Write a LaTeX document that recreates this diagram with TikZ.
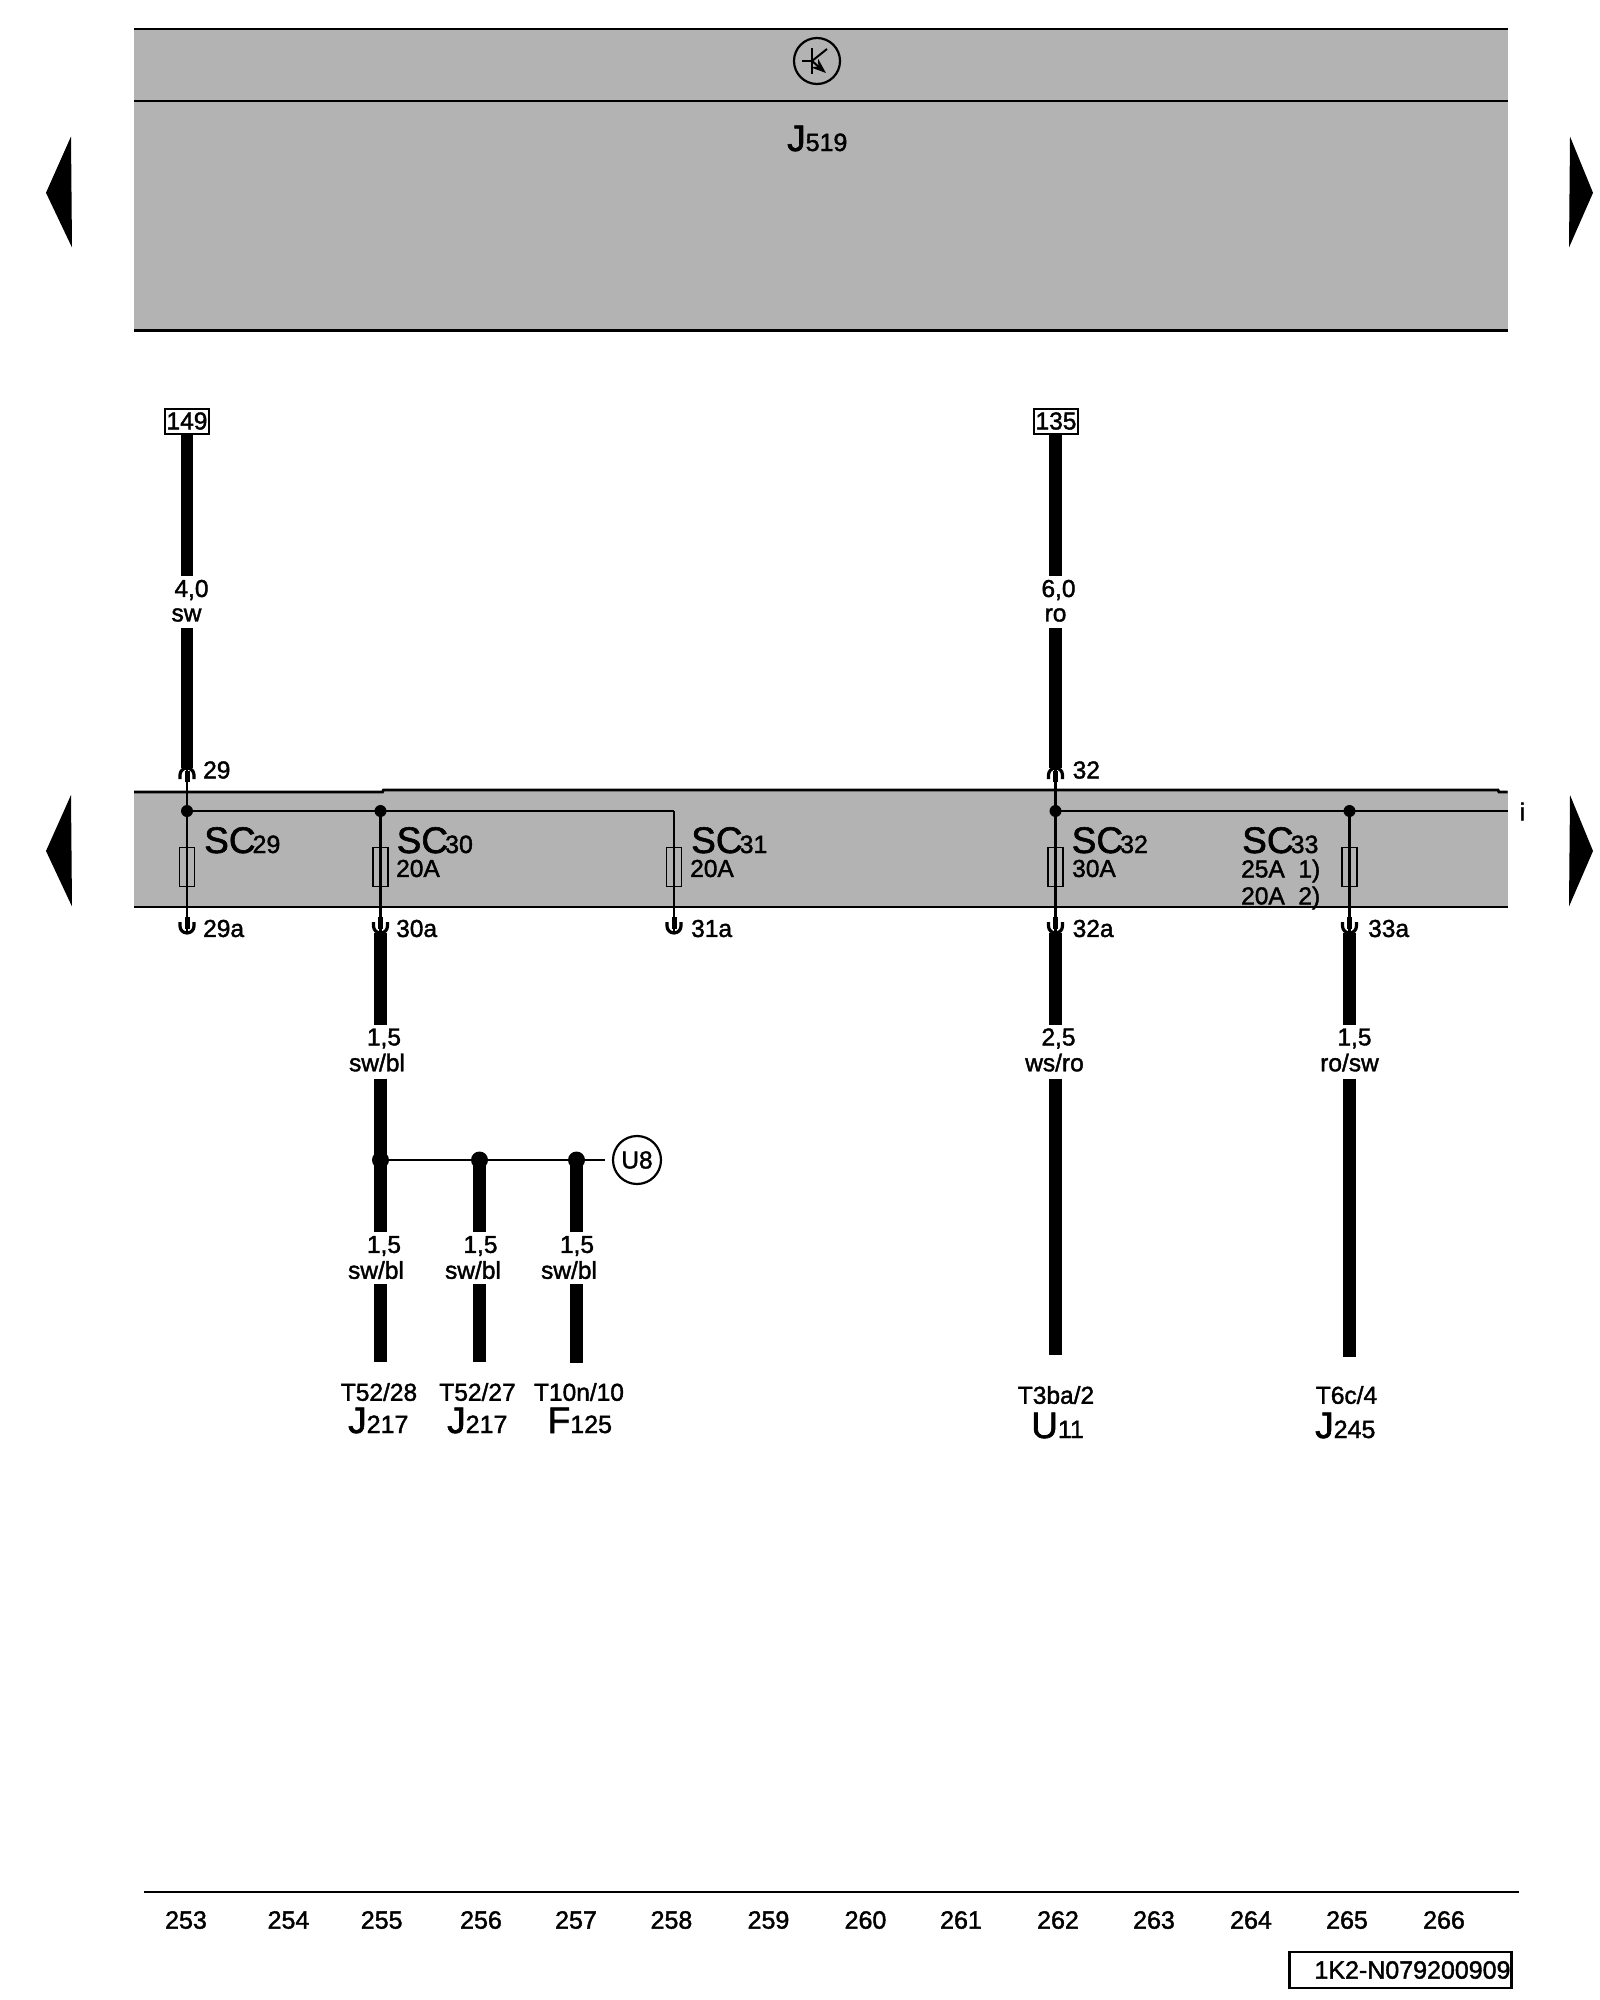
\documentclass[tikz,border=0pt]{standalone}
\usepackage{fontspec}
\setmainfont[FakeBold=1.6]{Liberation Sans}
\usetikzlibrary{arrows,arrows.meta,positioning,calc}

\definecolor{unitgray}{HTML}{B3B3B3}
\newcommand{\compname}[2]{{\fontsize{37}{37}\selectfont #1}{\fontsize{25}{25}\selectfont #2}}

\tikzset{
  lbl/.style={inner sep=0pt,font=\fontsize{24.5}{26}\selectfont},
  partlbl/.style={inner sep=0pt,anchor=base west},
  thinwire/.style={line width=2.4pt},
  thickwire/.style={line width=12.5pt},
  frameline/.style={line width=2.8pt},
  pin/.style={line width=3.2pt},
  stub/.style={line width=5pt},
  dot/.style={circle,fill=black,inner sep=0pt,minimum size=#1},
  fuse/.style={draw,fill=unitgray,line width=1.9pt,minimum width=15pt,minimum height=39pt,inner sep=0pt},
  termbox/.style={draw,line width=2pt,minimum width=44pt,minimum height=25pt,inner sep=0pt,font=\fontsize{24.5}{26}\selectfont},
  side/.style={fill=black}
}

\begin{document}
\begin{tikzpicture}[x=1pt,y=-1pt,>=stealth']
  \useasboundingbox (0,0) rectangle (1600,2000);

  % grey units
  \fill[unitgray] (134,29) rectangle (1507.6,330.6);
  \fill[unitgray] (134,791) rectangle (1507.6,907);
  \draw[frameline] (134,29) -- (1507.6,29);
  \draw[frameline] (134,101) -- (1507.6,101);
  \draw[frameline] (134,330.6) -- (1507.6,330.6);
  \draw[frameline] (134,792) -- (382.5,792) -- (383.5,790) -- (1498,790) -- (1499,792) -- (1507.6,792);
  \draw[frameline] (134,907) -- (1507.6,907);

  % side arrows
  \fill[side] (46,192.8) -- (71,136.5) -- (72,247.5) -- cycle;
  \fill[side] (46,851) -- (71,795) -- (72,906.5) -- cycle;
  \fill[side] (1593,192.8) -- (1570,136.5) -- (1569,247.5) -- cycle;
  \fill[side] (1593,851) -- (1570,795) -- (1569,906.5) -- cycle;

  % transistor mark
  \node[circle,draw,line width=2.2pt,minimum size=46pt,inner sep=0pt] (mark) at (817,61) {};
  \coordinate (tb) at (812,61);
  \draw[line width=2pt] (802,61) -- (tb);
  \draw[line width=2pt] (812,48) -- (812,74);
  \draw[line width=2pt] (tb) -- (827,49);
  \draw[line width=2pt,-{Stealth[length=15pt,width=11pt]}] (tb) -- (826,73);

  \node[partlbl] (j519) at (787,151) {\compname{J}{519}};

  % terminals
  \node[termbox] (t149) at (187,421) {149};
  \node[termbox] (t135) at (1056,421) {135};

  % bus rail and fuses
  \coordinate (r31) at (674,811);
  \coordinate (ri) at (1507.6,811);
  \node[dot=12pt] (d29) at (187,811) {};
  \node[dot=12pt] (d30) at (380.5,811) {};
  \node[dot=12pt] (d32) at (1055.5,811) {};
  \node[dot=12pt] (d33) at (1349.5,811) {};
  \draw[thinwire] (d29.center) -- (d30.center) -- (r31);
  \draw[thinwire] (d32.center) -- (d33.center) -- (ri);

  \coordinate (p29) at (187,768);
  \coordinate (p32) at (1055.5,768);
  \coordinate (q29) at (187,933);
  \coordinate (q30) at (380.5,933);
  \coordinate (q31) at (674,933);
  \coordinate (q32) at (1055.5,933);
  \coordinate (q33) at (1349.5,933);

  \draw[thinwire] (p29) -- (q29);
  \draw[thinwire] (d30.center) -- (q30);
  \draw[thinwire] (r31) -- (q31);
  \draw[thinwire] (p32) -- (q32);
  \draw[thinwire] (d33.center) -- (q33);

  \node[fuse] (f29) at (187,867) {};
  \node[fuse] (f30) at (380.5,867) {};
  \node[fuse] (f31) at (674,867) {};
  \node[fuse] (f32) at (1055.5,867) {};
  \node[fuse] (f33) at (1349.5,867) {};
  \draw[thinwire] (f29.north) -- (f29.south);
  \draw[thinwire] (f30.north) -- (f30.south);
  \draw[thinwire] (f31.north) -- (f31.south);
  \draw[thinwire] (f32.north) -- (f32.south);
  \draw[thinwire] (f33.north) -- (f33.south);

  % connector pins
  \foreach \p in {p29,p32} {
    \draw[pin] (\p) ++(-7,11) -- ++(0,-4) arc (180:360:7) -- ++(0,4);
    \draw[stub] ($(\p)+(0,3)$) -- ($(\p)+(0,14)$);
  }
  \foreach \q in {q29,q30,q31,q32,q33} {
    \draw[pin] (\q) ++(-7,-11) -- ++(0,4) arc (180:0:7) -- ++(0,-4);
    \draw[stub] ($(\q)+(0,-16)$) -- ($(\q)+(0,-4)$);
  }

  % thick wires
  \coordinate (a29) at (187,575.7);
  \coordinate (b29) at (187,628);
  \coordinate (a32) at (1055.5,575.7);
  \coordinate (b32) at (1055.5,628);
  \draw[thickwire] (t149) -- (a29);
  \draw[thickwire] (b29) -- (p29);
  \draw[thickwire] (t135.south -| a32) -- (a32);
  \draw[thickwire] (b32) -- (p32);

  \coordinate (a30) at (380.5,1025);
  \coordinate (b30) at (380.5,1078.5);
  \node[dot=17pt] (n1) at (380.5,1160) {};
  \node[dot=17pt] (n2) at (479.5,1160) {};
  \node[dot=17pt] (n3) at (576.5,1160) {};
  \draw[thickwire] (q30) -- (a30);
  \draw[thickwire] (b30) -- (n1.center);

  \coordinate (c1) at (380.5,1232);
  \coordinate (e1) at (380.5,1284);
  \coordinate (z1) at (380.5,1362);
  \coordinate (c2) at (479.5,1232);
  \coordinate (e2) at (479.5,1284);
  \coordinate (z2) at (479.5,1362);
  \coordinate (c3) at (576.5,1232);
  \coordinate (e3) at (576.5,1284);
  \coordinate (z3) at (576.5,1363);
  \draw[thickwire] (n1.center) -- (c1);
  \draw[thickwire] (e1) -- (z1);
  \draw[thickwire] (n2.center) -- (c2);
  \draw[thickwire] (e2) -- (z2);
  \draw[thickwire] (n3.center) -- (c3);
  \draw[thickwire] (e3) -- (z3);

  \node[circle,draw,line width=2.2pt,minimum size=48pt,inner sep=0pt,font=\fontsize{24.5}{26}\selectfont] (u8) at (637,1160) {U8};
  \coordinate (u8end) at (605,1160);
  \draw[thinwire] (n1.center) -- (n2.center) -- (n3.center) -- (u8end);

  \coordinate (a32b) at (1055.5,1025);
  \coordinate (b32b) at (1055.5,1078.5);
  \coordinate (z32) at (1055.5,1355);
  \coordinate (a33) at (1349.5,1025);
  \coordinate (b33) at (1349.5,1078.5);
  \coordinate (z33) at (1349.5,1357);
  \draw[thickwire] (q32) -- (a32b);
  \draw[thickwire] (b32b) -- (z32);
  \draw[thickwire] (q33) -- (a33);
  \draw[thickwire] (b33) -- (z33);

  % pin numbers
  \node[lbl,anchor=west] (l29) at (203,770) {29};
  \node[lbl,anchor=west] (l32) at (1072.5,770) {32};
  \node[lbl,anchor=west] (l29a) at (203,928.5) {29a};
  \node[lbl,anchor=west] (l30a) at (396,928.5) {30a};
  \node[lbl,anchor=west] (l31a) at (691,928.5) {31a};
  \node[lbl,anchor=west] (l32a) at (1072.5,928.5) {32a};
  \node[lbl,anchor=west] (l33a) at (1368,928.5) {33a};
  \node[lbl,anchor=west] (li) at (1519.5,811.5) {i};

  % fuse names
  \node[partlbl] (sc29) at (204,853) {\compname{SC}{\kern-3pt 29}};
  \node[partlbl] (sc30) at (396.5,853) {\compname{SC}{\kern-3pt 30}};
  \node[partlbl] (sc31) at (691,853) {\compname{SC}{\kern-3pt 31}};
  \node[partlbl] (sc32) at (1071.5,853) {\compname{SC}{\kern-3pt 32}};
  \node[partlbl] (sc33) at (1242,853) {\compname{SC}{\kern-3pt 33}};
  \node[lbl,anchor=west] (a30l) at (396,868.5) {20A};
  \node[lbl,anchor=west] (a31l) at (690,868.5) {20A};
  \node[lbl,anchor=west] (a32l) at (1072,868.5) {30A};
  \node[lbl,anchor=west] (a33l) at (1241,871) {25A\ \ 1)};
  \node[lbl,anchor=west] (a33m) at (1241,898) {20A\ \ 2)};

  % cross sections and colours
  \node[lbl] (s29) at (191.5,590) {4,0};
  \node[lbl] (c29) at (186.5,615) {sw};
  \node[lbl] (s32) at (1058.5,590) {6,0};
  \node[lbl] (c32) at (1055.5,615) {ro};
  \node[lbl] (s30) at (384,1038.5) {1,5};
  \node[lbl] (c30) at (377,1062.5) {sw/bl};
  \node[lbl] (s32a) at (1058.5,1038.5) {2,5};
  \node[lbl] (c32a) at (1054.5,1062.5) {ws/ro};
  \node[lbl] (s33) at (1354.5,1038.5) {1,5};
  \node[lbl] (c33) at (1349.5,1062.5) {ro/sw};
  \node[lbl] (s1) at (384,1246) {1,5};
  \node[lbl] (k1) at (376,1270) {sw/bl};
  \node[lbl] (s2) at (480.5,1246) {1,5};
  \node[lbl] (k2) at (473,1270) {sw/bl};
  \node[lbl] (s3) at (577,1246) {1,5};
  \node[lbl] (k3) at (569,1270) {sw/bl};

  % wire ends
  \node[lbl] (e28) at (379,1392) {T52/28};
  \node[lbl] (e27) at (477.5,1392) {T52/27};
  \node[lbl] (e10) at (579,1392) {T10n/10};
  \node[lbl] (e3ba) at (1056,1395) {T3ba/2};
  \node[lbl] (e6c) at (1346.5,1395) {T6c/4};
  \node[partlbl] (j217a) at (348,1433) {\compname{J}{217}};
  \node[partlbl] (j217b) at (447,1433) {\compname{J}{217}};
  \node[partlbl] (f125) at (547.5,1433) {\compname{F}{125}};
  \node[partlbl] (u11) at (1031,1438) {\compname{U}{11}};
  \node[partlbl] (j245) at (1315,1438) {\compname{J}{245}};

  % current track row
  \draw[frameline] (144,1892) -- (1519,1892);
  \foreach \x/\n in {186/253,288.5/254,381.7/255,481/256,576/257,671.5/258,768.5/259,865.5/260,961/261,1058/262,1154/263,1251/264,1347/265,1444/266} {
    \node[lbl,font=\fontsize{25}{27}\selectfont] (tr\n) at (\x,1920) {\n};
  }
  \node[draw,line width=2.4pt,minimum width=222pt,minimum height=36pt,inner sep=0pt] (code) at (1400.5,1970) {};
  \node[lbl,anchor=east,font=\fontsize{25}{27}\selectfont] (codetxt) at (code.east) {1K2-N079200909\kern2pt};
\end{tikzpicture}
\end{document}
